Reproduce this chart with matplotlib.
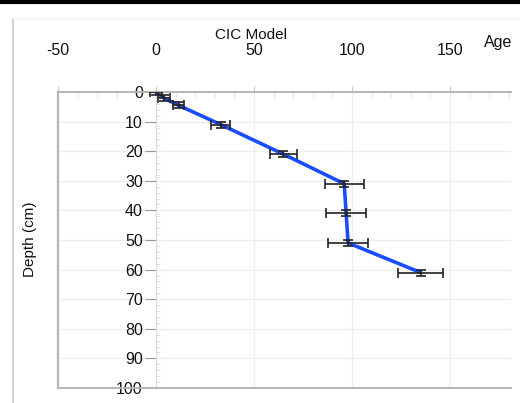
import matplotlib
matplotlib.use("Agg")
import matplotlib.pyplot as plt
from matplotlib.ticker import MultipleLocator
from matplotlib.lines import Line2D

plt.rcParams["font.family"] = ["Liberation Sans", "DejaVu Sans"]
plt.rcParams["axes.unicode_minus"] = False

# data
depth_cm = [0, 2, 4.5, 11, 21, 31, 41, 51, 61]
age = [0, 4, 11.5, 33, 65, 96, 97, 98, 135]
age_err = [3, 3, 3, 5, 7, 10, 10.2, 10.3, 11.6]
depth_err = [1, 1, 1, 1, 1, 1, 1, 1, 1]

x_ticks = [-50, 0, 50, 100, 150]
y_ticks = [0, 10, 20, 30, 40, 50, 60, 70, 80, 90, 100]

fig = plt.figure(figsize=(5.2, 4.03), dpi=100)
ax = fig.add_axes([58 / 520, 1 - 388 / 403, (511 - 58) / 520, (388 - 92) / 403])

ax.plot(age, depth_cm, color="#1a4dff", lw=2.6, zorder=2, solid_capstyle="round")
ax.errorbar(age, depth_cm, xerr=age_err, yerr=depth_err, fmt="none",
            ecolor="#222222", elinewidth=1.2, capsize=3.5, capthick=1.2, zorder=3)

ax.set_xlim(-50, 181.1)
ax.set_ylim(100, 0)
ax.set_xticks(x_ticks)
ax.set_yticks(y_ticks)
ax.xaxis.set_minor_locator(MultipleLocator(10))
ax.yaxis.set_minor_locator(MultipleLocator(2))

ax.xaxis.tick_top()
ax.tick_params(axis="x", which="major", direction="out", length=4, pad=20.5,
               labelsize=11.5, color="#c8c8c8", labelcolor="#111111")
ax.tick_params(axis="x", which="minor", direction="in", length=4, color="#dddddd")
ax.tick_params(axis="y", which="major", direction="out", length=8, pad=1.5,
               labelsize=11.5, color="#999999", labelcolor="#111111")
ax.tick_params(axis="y", which="minor", direction="in", length=3, color="#dddddd")

ax.grid(True, which="major", color="#eeeeee", lw=0.9, zorder=0)
ax.set_axisbelow(True)

ax.spines["left"].set_position(("data", 0))
ax.spines["left"].set_color("#dddddd")
ax.spines["right"].set_visible(False)
for s in ("top", "bottom"):
    ax.spines[s].set_color("#b5b5b5")
    ax.spines[s].set_linewidth(1.4)
# plot area border at the left edge
ax.add_line(Line2D([0, 0], [0, 1], transform=ax.transAxes, color="#b5b5b5",
                   lw=1.6, clip_on=False))

fig.text(251 / 520, 1 - 39 / 403, "CIC Model", ha="center", va="baseline",
         fontsize=11, color="#111111")
fig.text(512 / 520, 1 - 47.5 / 403, "Age", ha="right", va="baseline",
         fontsize=11.5, color="#111111")
fig.text(30 / 520, 1 - 239 / 403, "Depth (cm)", ha="center", va="center",
         rotation=90, fontsize=11, color="#111111")

# screenshot frame bits
fig.add_artist(Line2D([0, 1], [1 - 1.5 / 403, 1 - 1.5 / 403], color="black", lw=3))
fig.add_artist(Line2D([12.5 / 520, 12.5 / 520], [0, 1 - 19 / 403], color="#c8c8c8", lw=1.2))
fig.add_artist(Line2D([12.5 / 520, 1], [1 - 19 / 403, 1 - 19 / 403], color="#f2f2f2", lw=1))

fig.savefig("out.png", dpi=100)
